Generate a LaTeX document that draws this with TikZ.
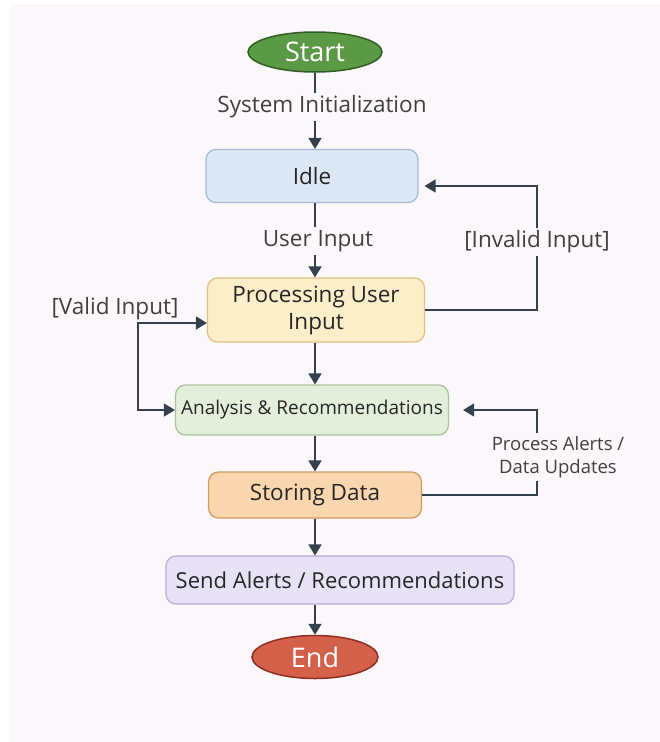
\documentclass[tikz,border=0pt]{standalone}
\usepackage{fontspec}
\setmainfont{Open Sans}
\usetikzlibrary{shapes.geometric, arrows.meta, positioning}

\definecolor{panel}{HTML}{FBF7FB}
\definecolor{linec}{HTML}{33404E}
\definecolor{startc}{HTML}{5A9A45}\definecolor{startd}{HTML}{2F5F25}
\definecolor{idlec}{HTML}{DCE7F6}\definecolor{idled}{HTML}{A3BBDD}
\definecolor{procc}{HTML}{FCEEC9}\definecolor{procd}{HTML}{E2C07D}
\definecolor{anac}{HTML}{E3EEDB}\definecolor{anad}{HTML}{A8C49A}
\definecolor{storec}{HTML}{F9D6AD}\definecolor{stored}{HTML}{CF9B63}
\definecolor{sendc}{HTML}{E7E2F5}\definecolor{sendd}{HTML}{B8AED6}
\definecolor{endc}{HTML}{D5604A}\definecolor{endd}{HTML}{8F2F22}

\tikzset{
  box/.style={draw, rounded corners=10pt, line width=1.2pt, text=black!85, align=center,
    font=\fontsize{22.5}{27}\selectfont},
  term/.style={ellipse, draw, line width=1.5pt, inner sep=0pt, text=white,
    font=\fontsize{27}{31}\selectfont},
  lbl/.style={text=black!75, inner xsep=5pt, inner ysep=3pt, font=\fontsize{22.5}{27}\selectfont},
  link/.style={draw=linec, line width=1.6pt},
  >={Triangle[width=13pt,length=11pt]},
}

\begin{document}
\begin{tikzpicture}[x=1pt, y=-1pt]
  \fill[white] (0,0) rectangle (660,742);
  \fill[panel] (10,4) rectangle (660,742);
  \useasboundingbox (0,0) rectangle (660,742);

  \node[term, fill=startc, draw=startd, minimum width=134pt, minimum height=40pt] (start) at (315,52) {Start};
  \node[lbl] (sysinit) at (322,107) {System Initialization};
  \node[box, fill=idlec, draw=idled, minimum width=212pt, minimum height=53pt] (idle) at (312,176) {Idle};
  \node[lbl] (usrin) at (318,241) {User Input};
  \node[box, fill=procc, draw=procd, minimum width=217pt, minimum height=64pt] (proc) at (316,310) {Processing User\\Input};
  \node[box, fill=anac, draw=anad, minimum width=273pt, minimum height=50pt, font=\fontsize{19}{23}\selectfont] (ana) at (312,410) {Analysis \& Recommendations};
  \node[box, fill=storec, draw=stored, minimum width=213pt, minimum height=46pt] (store) at (315,495) {Storing Data};
  \node[box, fill=sendc, draw=sendd, minimum width=348pt, minimum height=48pt, font=\fontsize{22}{26}\selectfont] (send) at (340,580) {Send Alerts / Recommendations};
  \node[term, fill=endc, draw=endd, minimum width=126pt, minimum height=43pt] (end) at (315,657) {End};

  \node[lbl] (invalid) at (537,242) {[Invalid Input]};
  \node[lbl] (valid) at (115,309) {[Valid Input]};
  \node[lbl, align=center, font=\fontsize{18.5}{23}\selectfont] (alerts) at (558,457) {Process Alerts /\\Data Updates};
  \coordinate (vbend) at (138,323);

  % main flow
  \draw[link] (start) -- (sysinit.north -| start);
  \draw[link, ->] (sysinit.south -| start) -- (idle.north -| start);
  \draw[link] (idle.south -| start) -- (usrin.north -| start);
  \draw[link, ->] (usrin.south -| start) -- (proc.north -| start);
  \draw[link, ->] (proc.south -| start) -- (ana.north -| start);
  \draw[link, ->] (ana.south -| start) -- (store.north -| start);
  \draw[link, ->] (store.south -| start) -- (send.north -| start);
  \draw[link, ->] (send.south -| start) -- (end);

  % side loops
  \draw[link] (proc.east) -| (invalid.south);
  \draw[link, ->] (invalid.north) |- ([xshift=6pt, yshift=-10pt]idle.east);
  \draw[link, <->] (vbend -| proc.west) -- (vbend) |- (ana.west);
  \draw[link] (store.east) -| (alerts.south -| invalid);
  \draw[link, ->] (alerts.north -| invalid) |- ([xshift=14pt]ana.east);
\end{tikzpicture}
\end{document}
